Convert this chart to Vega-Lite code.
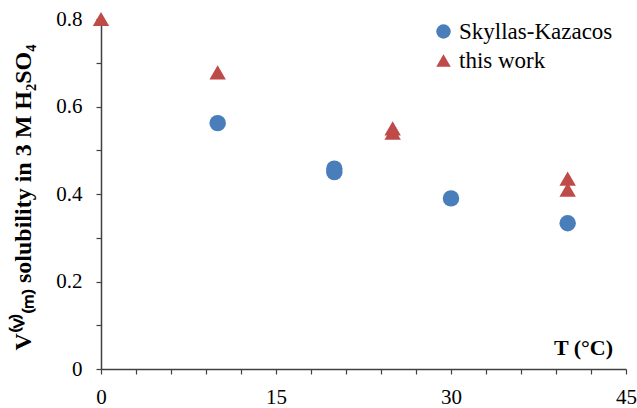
{
  "$schema": "https://vega.github.io/schema/vega-lite/v6.json",
  "width": 525,
  "height": 350,
  "autosize": {"type": "none"},
  "padding": {"left": 101, "top": 19, "right": 11, "bottom": 39},
  "background": "white",
  "config": {
    "view": {"stroke": null},
    "font": "Liberation Serif"
  },
  "data": {
    "values": [
      {"T": 10, "s": 0.562, "src": "Skyllas-Kazacos"},
      {"T": 20, "s": 0.458, "src": "Skyllas-Kazacos"},
      {"T": 20, "s": 0.45, "src": "Skyllas-Kazacos"},
      {"T": 30, "s": 0.39, "src": "Skyllas-Kazacos"},
      {"T": 40, "s": 0.333, "src": "Skyllas-Kazacos"},
      {"T": 0, "s": 0.8, "src": "this work"},
      {"T": 10, "s": 0.678, "src": "this work"},
      {"T": 25, "s": 0.55, "src": "this work"},
      {"T": 25, "s": 0.54, "src": "this work"},
      {"T": 40, "s": 0.435, "src": "this work"},
      {"T": 40, "s": 0.41, "src": "this work"}
    ]
  },
  "mark": {"type": "point", "filled": true, "opacity": 1, "size": 270},
  "encoding": {
    "x": {
      "field": "T", "type": "quantitative",
      "scale": {"domain": [0, 45], "nice": false},
      "axis": {
        "title": "T (°C)",
        "titleFont": "Liberation Serif", "titleFontSize": 22, "titleFontWeight": "bold", "titleColor": "black",
        "titleX": 482, "titleY": -22, "titleAlign": "center", "titleBaseline": "middle",
        "values": [0,3,6,9,12,15,18,21,24,27,30,33,36,39,42,45],
        "labelExpr": "datum.value % 15 == 0 ? datum.label : ''",
        "labelFontSize": 21, "labelColor": "black", "labelFont": "Liberation Serif",
        "labelPadding": 12, "labelFlush": false,
        "grid": false, "domainColor": "#404040", "domainWidth": 1.5,
        "tickColor": "#404040", "tickSize": 5, "tickWidth": 1.2
      }
    },
    "y": {
      "field": "s", "type": "quantitative",
      "scale": {"domain": [0, 0.8], "nice": false},
      "axis": {
        "title": "V⁽ⱽ⁾₍ₘ₎ solubility in 3 M H₂SO₄",
        "titleFont": "Liberation Serif", "titleFontSize": 24, "titleFontWeight": "bold", "titleColor": "black",
        "titleX": -78, "titleY": 178, "titleAngle": -90, "titleAlign": "center", "titleBaseline": "middle",
        "values": [0, 0.1, 0.2, 0.3, 0.4, 0.5, 0.6, 0.7, 0.8],
        "labelExpr": "(round(datum.value*10) % 2 == 0) ? (datum.value == 0 ? '0' : format(datum.value, '.1f')) : ''",
        "labelFontSize": 21, "labelColor": "black", "labelFont": "Liberation Serif",
        "labelPadding": 14, "labelFlush": false,
        "grid": false, "domainColor": "#404040", "domainWidth": 1.5,
        "tickColor": "#404040", "tickSize": 5, "tickWidth": 1.2
      }
    },
    "color": {
      "field": "src", "type": "nominal",
      "scale": {"domain": ["Skyllas-Kazacos", "this work"], "range": ["#4a7ebb", "#be4b48"]},
      "legend": {
        "title": null, "orient": "none", "legendX": 331, "legendY": 1,
        "labelFont": "Liberation Serif", "labelFontSize": 23, "labelColor": "black",
        "symbolSize": 210, "rowPadding": 5, "labelOffset": 4
      }
    },
    "shape": {
      "field": "src", "type": "nominal",
      "scale": {"domain": ["Skyllas-Kazacos", "this work"], "range": ["circle", "triangle-up"]},
      "legend": null
    }
  }
}
